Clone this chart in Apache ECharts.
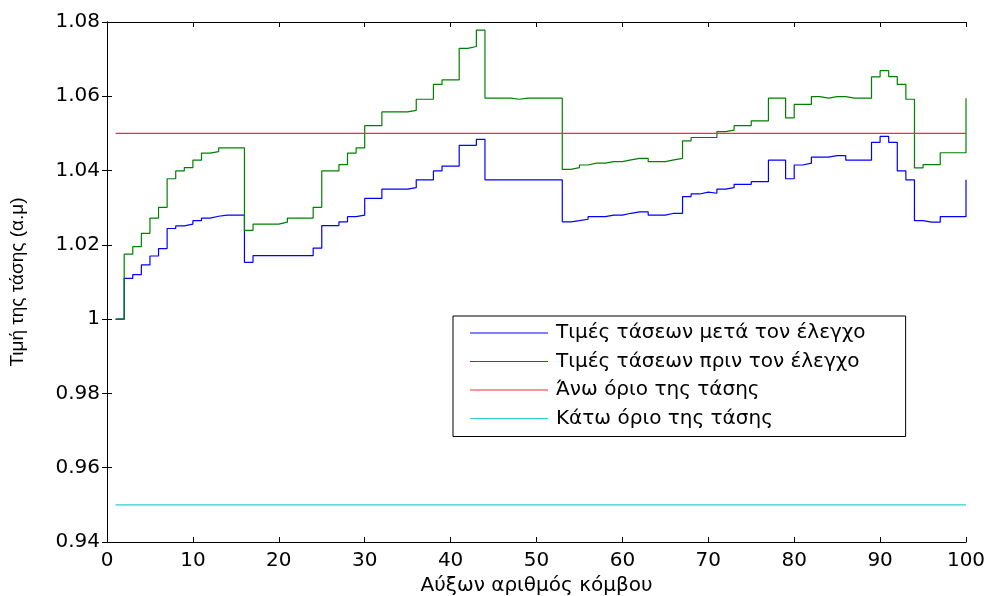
<!DOCTYPE html>
<html>
<head>
<meta charset="utf-8">
<script src="https://cdn.jsdelivr.net/npm/echarts@6/dist/echarts.min.js"></script>
<style>
  html, body { margin: 0; padding: 0; background: #fff; }
  #chart { width: 989px; height: 596px; }
</style>
</head>
<body>
<div id="chart"></div>
<script>
// τάσεις κόμβων 1..100 (ανά κόμβο)
const afterControl = [
  1.000, 1.011, 1.012, 1.0146, 1.017, 1.019, 1.0244, 1.0251, 1.0256, 1.0265,
  1.0272, 1.0277, 1.028, 1.028, 1.028, 1.0153, 1.0171, 1.0171, 1.0171, 1.0171,
  1.0171, 1.0171, 1.0171, 1.0191, 1.0252, 1.0252, 1.0262, 1.0276, 1.028, 1.0325,
  1.0325, 1.035, 1.035, 1.035, 1.0354, 1.0375, 1.0375, 1.0399, 1.0412, 1.0412,
  1.0468, 1.0468, 1.0484, 1.0375, 1.0375, 1.0375, 1.0375, 1.0375, 1.0375, 1.0375,
  1.0375, 1.0375, 1.0262, 1.0265, 1.0269, 1.0276, 1.0276, 1.028, 1.028, 1.0285,
  1.0289, 1.0289, 1.028, 1.028, 1.0285, 1.0285, 1.033, 1.0337, 1.0342, 1.0339,
  1.035, 1.0354, 1.0363, 1.0363, 1.037, 1.037, 1.0428, 1.0428, 1.0378, 1.0415,
  1.042, 1.0436, 1.0436, 1.044, 1.044, 1.0428, 1.0428, 1.0428, 1.0476, 1.0492,
  1.0476, 1.0399, 1.0375, 1.0265, 1.0261, 1.0261, 1.0276, 1.0276, 1.0276, 1.0375
];
const beforeControl = [
  1.000, 1.0175, 1.0195, 1.0231, 1.0272, 1.0301, 1.0378, 1.0399, 1.0408, 1.0428,
  1.0447, 1.0451, 1.0461, 1.0461, 1.0461, 1.0239, 1.0256, 1.0256, 1.0256, 1.0261,
  1.0272, 1.0272, 1.0272, 1.0301, 1.0399, 1.0399, 1.0416, 1.0447, 1.0461, 1.0521,
  1.0521, 1.0558, 1.0558, 1.0558, 1.0562, 1.0592, 1.0592, 1.0632, 1.0644, 1.0644,
  1.0729, 1.0734, 1.0778, 1.0595, 1.0595, 1.0595, 1.0592, 1.0595, 1.0595, 1.0595,
  1.0595, 1.0595, 1.0403, 1.0408, 1.0415, 1.042, 1.042, 1.0424, 1.0424, 1.0429,
  1.0433, 1.0433, 1.0424, 1.0424, 1.0429, 1.0433, 1.048, 1.0489, 1.0489, 1.0489,
  1.0505, 1.0509, 1.0521, 1.0521, 1.0534, 1.0534, 1.0595, 1.0595, 1.0542, 1.0578,
  1.0578, 1.0599, 1.0595, 1.0599, 1.0599, 1.0595, 1.0595, 1.0595, 1.0652, 1.0669,
  1.0653, 1.0632, 1.0592, 1.0407, 1.0416, 1.0416, 1.0448, 1.0448, 1.0448, 1.0595
];
const firstNode = 1;
const lastNode = 100;
const upperLimit = 1.05;
const lowerLimit = 0.95;
const seriesNames = [
  'Τιμές τάσεων μετά τον έλεγχο',
  'Τιμές τάσεων πριν τον έλεγχο',
  'Άνω όριο της τάσης',
  'Κάτω όριο της τάσης'
];

const toPoints = (arr) => arr.map((v, i) => [firstNode + i, v]);

const chartInstance = echarts.init(document.getElementById('chart'));

const labelFont = { fontFamily: 'DejaVu Sans, sans-serif', fontSize: 20, color: '#000' };
const nameFont = { fontFamily: 'DejaVu Sans, sans-serif', fontSize: 20, color: '#000' };
const boxLine = { show: true, lineStyle: { color: '#000', width: 1 } };
const inTick = { show: true, inside: true, length: 5, lineStyle: { color: '#000' } };

const option = {
  backgroundColor: '#fff',
  animation: false,
  grid: { left: 107, right: 23, top: 22, bottom: 54, containLabel: false, outerBoundsMode: 'none' },
  legend: {
    orient: 'vertical',
    left: 453,
    top: 316,
    data: seriesNames,
    icon: 'rect',
    itemWidth: 78,
    itemHeight: 1.2,
    itemGap: 8.5,
    padding: [7, 40, 8, 17],
    borderColor: '#000',
    borderWidth: 1,
    backgroundColor: '#fff',
    textStyle: { ...labelFont, lineHeight: 20, padding: [0, 0, 0, 3] }
  },
  xAxis: [
    {
      type: 'value', min: 0, max: 100, interval: 10,
      name: 'Αύξων αριθμός κόμβου', nameLocation: 'middle', nameGap: 32,
      nameTextStyle: nameFont,
      axisLine: boxLine, axisTick: inTick, splitLine: { show: false },
      axisLabel: { ...labelFont, margin: 9 }
    },
    {
      type: 'value', min: 0, max: 100, interval: 10, position: 'top',
      axisLine: boxLine, axisTick: inTick, splitLine: { show: false },
      axisLabel: { show: false }
    }
  ],
  yAxis: [
    {
      type: 'value', min: 0.94, max: 1.08, interval: 0.02,
      name: 'Τιμή της τάσης (α.μ)', nameLocation: 'middle', nameGap: 80,
      nameTextStyle: { fontFamily: 'Liberation Sans, Arial, sans-serif', fontSize: 19, color: '#000' },
      axisLine: boxLine, axisTick: inTick, splitLine: { show: false },
      axisLabel: {
        ...labelFont, margin: 7,
        formatter: (v) => String(parseFloat(v.toFixed(2)))
      }
    },
    {
      type: 'value', min: 0.94, max: 1.08, interval: 0.02, position: 'right',
      axisLine: boxLine, axisTick: inTick, splitLine: { show: false },
      axisLabel: { show: false }
    }
  ],
  series: [
    {
      name: seriesNames[0], type: 'line', step: 'end', showSymbol: false,
      data: toPoints(afterControl), color: '#0000ff',
      lineStyle: { width: 1.2, color: '#0000ff' }
    },
    {
      name: seriesNames[1], type: 'line', step: 'end', showSymbol: false,
      data: toPoints(beforeControl), color: '#008000',
      lineStyle: { width: 1.2, color: '#008000' }
    },
    {
      name: seriesNames[2], type: 'line', showSymbol: false,
      data: [[firstNode, upperLimit], [lastNode, upperLimit]], color: '#ff2a2a',
      lineStyle: { width: 1.2, color: '#ff2a2a' }
    },
    {
      name: seriesNames[3], type: 'line', showSymbol: false,
      data: [[firstNode, lowerLimit], [lastNode, lowerLimit]], color: '#33cccc',
      lineStyle: { width: 1.2, color: '#33cccc' }
    }
  ]
};

chartInstance.setOption(option);
</script>
</body>
</html>
